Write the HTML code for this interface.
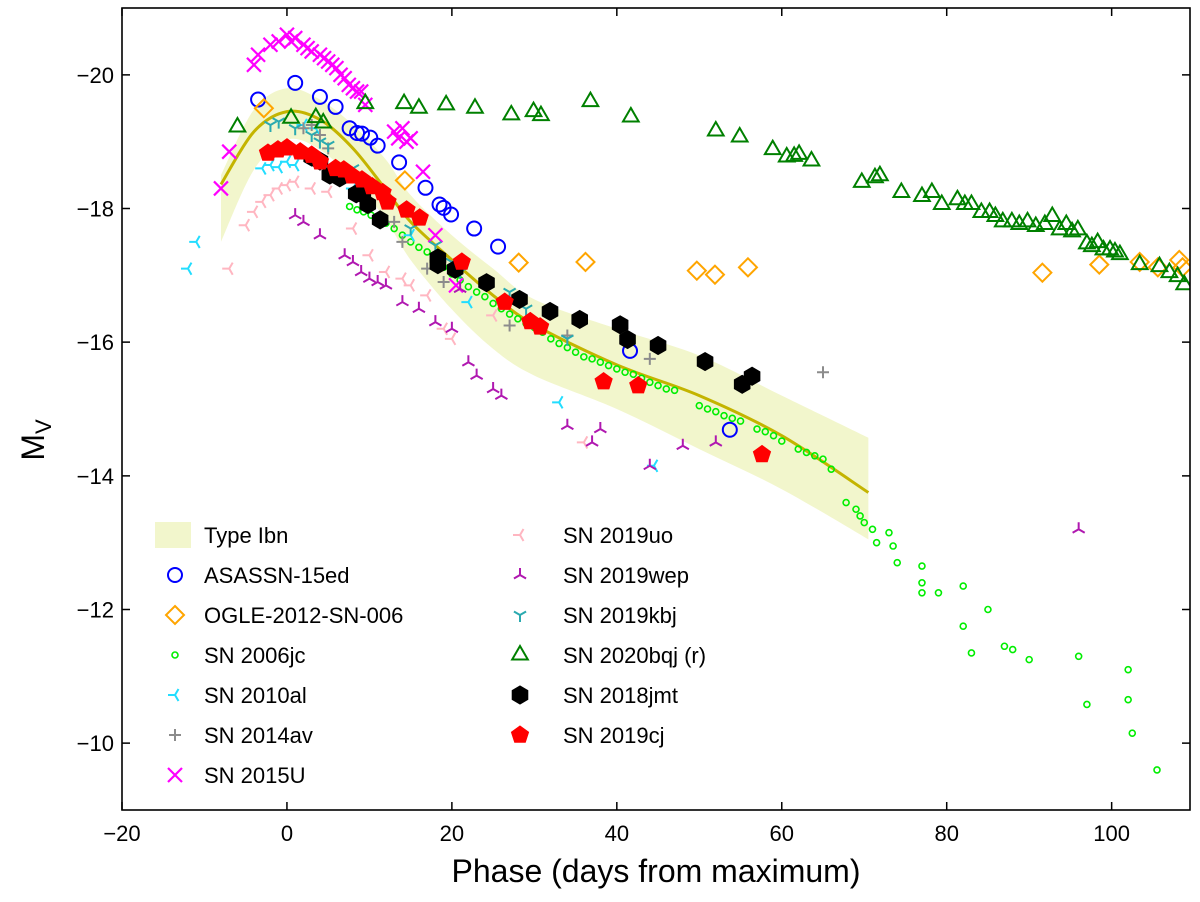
<!DOCTYPE html>
<html><head><meta charset="utf-8"><style>
html,body{margin:0;padding:0;background:#fff;}
svg{display:block;font-family:"Liberation Sans",sans-serif;}
</style></head><body>
<svg id="chart" width="1200" height="902" viewBox="0 0 1200 902" xmlns="http://www.w3.org/2000/svg"></svg>
<script>
// ---- data ----
const bandPhase=[-8,-4,0,4,8,12,15,20,25,30,40,50,60,70.5];
const bandMean=[-18.36,-19.15,-19.45,-19.33,-18.9,-18.28,-17.8,-17.23,-16.7,-16.26,-15.66,-15.2,-14.6,-13.75];
const bandUpper=[-18.5,-19.48,-19.8,-19.63,-19.25,-18.73,-18.2,-17.6,-17.1,-16.64,-16.2,-15.8,-15.2,-14.57];
const bandLower=[-17.5,-18.58,-19.03,-18.88,-18.43,-17.83,-17.23,-16.49,-15.9,-15.5,-15.0,-14.4,-13.8,-13.05];

const asassnX=[-3.5,1.0,4.0,5.9,7.6,8.5,9.1,10.1,11.0,13.6,16.8,18.5,19.0,19.9,22.7,25.6,41.6,53.7];
const asassnY=[-19.63,-19.88,-19.67,-19.52,-19.2,-19.13,-19.12,-19.06,-18.94,-18.69,-18.31,-18.06,-18.01,-17.91,-17.7,-17.43,-15.87,-14.69];

const ogleX=[-2.8,14.3,28.1,36.2,49.7,51.9,55.9,91.6,98.5,103.4,105.6,108.2,108.6];
const ogleY=[-19.5,-18.42,-17.19,-17.2,-17.07,-17.01,-17.12,-17.04,-17.16,-17.2,-17.12,-17.23,-17.12];

const jcX=[7.6,8.5,9.3,10.2,11,12,13,14,15,16,17,18,19,20,21,22,23,24,25,26,27,28,29,30,31,32,33,34,35,36,37,38,39,40,41,42,43,44,45,46,47,50,51,52,53,54,55,57,58,59,60,62,63,64,65,66,67.8,69,69.5,70,71,71.5,73,73.5,74,77,77,77,79,82,82,83,85,87,88,90,96,97,102,102,102.5,105.5];
const jcY=[-18.03,-17.98,-17.95,-17.9,-17.85,-17.78,-17.7,-17.6,-17.5,-17.42,-17.35,-17.22,-17.12,-17.02,-16.93,-16.83,-16.75,-16.68,-16.58,-16.5,-16.42,-16.35,-16.28,-16.22,-16.15,-16.05,-15.98,-15.92,-15.85,-15.78,-15.75,-15.7,-15.65,-15.6,-15.55,-15.52,-15.46,-15.4,-15.35,-15.3,-15.28,-15.05,-15.0,-14.96,-14.9,-14.86,-14.82,-14.7,-14.66,-14.6,-14.52,-14.4,-14.35,-14.3,-14.25,-14.1,-13.6,-13.5,-13.4,-13.3,-13.2,-13.0,-13.15,-12.95,-12.7,-12.65,-12.4,-12.25,-12.25,-12.35,-11.75,-11.35,-12.0,-11.45,-11.4,-11.25,-11.3,-10.58,-11.1,-10.65,-10.15,-9.6];

const al10X=[-12,-11,-3,-2,-1,0,1,2,3.5,8,15,22,33,44.5];
const al10Y=[-17.1,-17.5,-18.6,-18.65,-18.62,-18.7,-18.65,-19.25,-19.2,-18.3,-17.6,-16.6,-15.1,-14.15];

const av14X=[2,3,4,5,13,14,17,19,27,34,44,65];
const av14Y=[-19.2,-19.25,-19.1,-18.9,-17.8,-17.5,-17.1,-16.9,-16.25,-16.1,-15.75,-15.55];

const u15X=[-8,-7,-4,-3.5,-2,-1,0,0.5,1,2,2.5,3,4,4.5,5,5.5,6,6.5,7,7.5,8,8.5,9,9.5,13,13.5,14,14.5,15,16.5,18,20.5];
const u15Y=[-18.3,-18.85,-20.15,-20.3,-20.45,-20.5,-20.6,-20.5,-20.55,-20.45,-20.4,-20.35,-20.3,-20.25,-20.2,-20.15,-20.1,-20.0,-19.95,-19.85,-19.8,-19.75,-19.75,-19.55,-19.15,-19.05,-19.2,-19.0,-19.05,-18.55,-17.6,-16.85];

const uo19X=[-7,-5,-4,-3,-2,-1,0,1,3,5,8,10,12,14,15,17,19,20,25,36];
const uo19Y=[-17.1,-17.75,-17.95,-18.1,-18.2,-18.3,-18.35,-18.4,-18.3,-18.25,-17.7,-17.3,-17.05,-16.95,-16.85,-16.7,-16.2,-16.05,-16.4,-14.5];

const wep19X=[1,2,4,7,8,9,10,11,12,14,16,18,20,21,22,23,25,26,34,37,38,44,48,52,96];
const wep19Y=[-17.9,-17.8,-17.6,-17.3,-17.2,-17.05,-16.95,-16.9,-16.85,-16.6,-16.5,-16.3,-16.2,-16.8,-15.7,-15.5,-15.3,-15.2,-14.75,-14.5,-14.7,-14.15,-14.45,-14.5,-13.2];

const kbj19X=[-2,-1,1,3,4,5,8,15,18,20,21,27,29,34];
const kbj19Y=[-19.25,-19.3,-19.2,-19.1,-19.0,-18.95,-18.6,-17.7,-17.45,-17.2,-17.05,-16.75,-16.5,-16.05];

const bqjX=[-6,0.5,3.5,4.4,9.5,14.2,16,19.3,22.8,27.2,29.9,30.8,36.8,41.7,52,54.9,58.9,60.6,61.5,62.1,63.6,69.7,71.3,71.9,74.5,77,78.2,79.4,81.3,82.2,83,84.2,85.2,85.9,86.8,87.9,88.8,89.8,90.8,91.9,92.8,93.7,94.5,95.2,95.9,97,97.6,98.3,99,99.8,100.4,101,103.4,105.8,107,108,108.8];
const bqjY=[-19.22,-19.35,-19.36,-19.28,-19.57,-19.57,-19.5,-19.55,-19.5,-19.4,-19.45,-19.39,-19.6,-19.37,-19.16,-19.07,-18.88,-18.77,-18.78,-18.81,-18.71,-18.39,-18.46,-18.49,-18.24,-18.18,-18.24,-18.06,-18.13,-18.06,-18.06,-17.94,-17.94,-17.88,-17.8,-17.8,-17.76,-17.8,-17.73,-17.76,-17.88,-17.68,-17.76,-17.65,-17.68,-17.47,-17.43,-17.49,-17.38,-17.38,-17.35,-17.31,-17.16,-17.13,-17.04,-16.98,-16.86];

const jmtX=[3,4,5.2,6.4,8.4,9.2,9.8,11.3,18.3,18.3,20.4,24.2,28.2,31.9,35.5,40.4,41.3,45,50.7,55.2,56.4];
const jmtY=[-18.77,-18.71,-18.5,-18.46,-18.22,-18.21,-18.06,-17.83,-17.26,-17.16,-17.09,-16.89,-16.64,-16.46,-16.34,-16.26,-16.04,-15.95,-15.71,-15.37,-15.49];

const cjX=[-2.3,-1.1,0,1.6,3,4,5.9,6.9,7.9,9.1,10.3,11.6,12.2,14.5,16.1,21.2,26.4,29.5,30.7,38.4,42.6,57.6];
const cjY=[-18.83,-18.88,-18.91,-18.85,-18.8,-18.7,-18.6,-18.58,-18.49,-18.43,-18.33,-18.24,-18.1,-17.98,-17.86,-17.2,-16.6,-16.31,-16.23,-15.41,-15.35,-14.32];

const xTicks=[-20,0,20,40,60,80,100];
const yTicks=[-20,-18,-16,-14,-12,-10];

// ---- layout ----
const L=122,R=1190,T=8,B=810;
const X0=-20,X1=109.5,Y0=-21,Y1=-9;
const sx=v=>L+(v-X0)/(X1-X0)*(R-L);
const sy=v=>T+(v-Y0)/(Y1-Y0)*(B-T);
const NS="http://www.w3.org/2000/svg";
const svg=document.getElementById('chart');
function mk(tag,attrs,parent){const e=document.createElementNS(NS,tag);for(const k in attrs)e.setAttribute(k,attrs[k]);(parent||svg).appendChild(e);return e;}

// Catmull-Rom smooth path segments
function smooth(pts,start){
  let d=start?('M'+pts[0][0]+','+pts[0][1]):('L'+pts[0][0]+','+pts[0][1]);
  for(let i=0;i<pts.length-1;i++){
    const p0=pts[Math.max(i-1,0)],p1=pts[i],p2=pts[i+1],p3=pts[Math.min(i+2,pts.length-1)];
    const c1=[p1[0]+(p2[0]-p0[0])/6,p1[1]+(p2[1]-p0[1])/6];
    const c2=[p2[0]-(p3[0]-p1[0])/6,p2[1]-(p3[1]-p1[1])/6];
    d+=`C${c1[0]},${c1[1]} ${c2[0]},${c2[1]} ${p2[0]},${p2[1]}`;
  }
  return d;
}

const defs=mk('defs',{});
const cp=mk('clipPath',{id:'clip'},defs);mk('rect',{x:L,y:T,width:R-L,height:B-T},cp);
const plot=mk('g',{'clip-path':'url(#clip)'});



// band
const up=bandPhase.map((p,i)=>[sx(p),sy(bandUpper[i])]);
const lo=bandPhase.map((p,i)=>[sx(p),sy(bandLower[i])]).reverse();
const band=mk('path',{d:smooth(up,true)+smooth(lo,false)+'Z',fill:'#f2f6cc',stroke:'none'},plot);


const meanLine=mk('path',{d:smooth(bandPhase.map((p,i)=>[sx(p),sy(bandMean[i])]),true),fill:'none',stroke:'#c4b400','stroke-width':3,'stroke-linejoin':'round'},plot);



function marker(g,type,x,y,col,s){
  s=s||1;
  if(type==='circle')return mk('circle',{cx:x,cy:y,r:7*s,fill:'none',stroke:col,'stroke-width':2},g);
  if(type==='small')return mk('circle',{cx:x,cy:y,r:3,fill:'none',stroke:col,'stroke-width':1.6},g);
  if(type==='diamond'){const r=9*s;return mk('path',{d:`M${x},${y-r}L${x+r},${y}L${x},${y+r}L${x-r},${y}Z`,fill:'none',stroke:col,'stroke-width':2},g);}
  if(type==='plus'){const r=6;return mk('path',{d:`M${x-r},${y}H${x+r}M${x},${y-r}V${y+r}`,stroke:col,'stroke-width':2},g);}
  if(type==='x'){const r=7;return mk('path',{d:`M${x-r},${y-r}L${x+r},${y+r}M${x-r},${y+r}L${x+r},${y-r}`,stroke:col,'stroke-width':2.2},g);}
  if(type==='triangle'){const r=9*s;return mk('path',{d:`M${x},${y-r}L${x+r*0.87},${y+r*0.5}L${x-r*0.87},${y+r*0.5}Z`,fill:'none',stroke:col,'stroke-width':2},g);}
  if(type==='hex'){let p='';for(let k=0;k<6;k++){const a=Math.PI/6+k*Math.PI/3;p+=(k?'L':'M')+(x+9*s*Math.cos(a))+','+(y+9*s*Math.sin(a));}return mk('path',{d:p+'Z',fill:'#000',stroke:'#000','stroke-width':1},g);}
  if(type==='pent'){let p='';for(let k=0;k<5;k++){const a=-Math.PI/2+k*2*Math.PI/5;p+=(k?'L':'M')+(x+9*s*Math.cos(a))+','+(y+9*s*Math.sin(a));}return mk('path',{d:p+'Z',fill:'#f00',stroke:'#f00','stroke-width':1},g);}
  const r=7;let angs;
  if(type==='tri_left')angs=[180,60,-60];
  if(type==='tri_up')angs=[-90,30,150];
  if(type==='tri_down')angs=[90,-30,-150];
  let p='';angs.forEach(a=>{const t=a*Math.PI/180;p+=`M${x},${y}L${x+r*Math.cos(t)},${y+r*Math.sin(t)}`;});
  return mk('path',{d:p,stroke:col,'stroke-width':2,fill:'none'},g);
}
const series=[
 {name:'ASASSN-15ed',key:'asassn-15ed',xs:asassnX,ys:asassnY,type:'circle',col:'#0000ff'},
 {name:'OGLE-2012-SN-006',key:'ogle-2012-sn-006',xs:ogleX,ys:ogleY,type:'diamond',col:'#ffa500'},
 {name:'SN 2006jc',key:'sn-2006jc',xs:jcX,ys:jcY,type:'small',col:'#00ee00'},
 {name:'SN 2010al',key:'sn-2010al',xs:al10X,ys:al10Y,type:'tri_left',col:'#22ddff'},
 {name:'SN 2014av',key:'sn-2014av',xs:av14X,ys:av14Y,type:'plus',col:'#8c8c8c'},
 {name:'SN 2015U',key:'sn-2015u',xs:u15X,ys:u15Y,type:'x',col:'#ff00ff'},
 {name:'SN 2019uo',key:'sn-2019uo',xs:uo19X,ys:uo19Y,type:'tri_left',col:'#ffb6c1'},
 {name:'SN 2019wep',key:'sn-2019wep',xs:wep19X,ys:wep19Y,type:'tri_up',col:'#b018b0'},
 {name:'SN 2019kbj',key:'sn-2019kbj',xs:kbj19X,ys:kbj19Y,type:'tri_down',col:'#2aaab0'},
 {name:'SN 2020bqj (r)',key:'sn-2020bqj',xs:bqjX,ys:bqjY,type:'triangle',col:'#008000'},
 {name:'SN 2018jmt',key:'sn-2018jmt',xs:jmtX,ys:jmtY,type:'hex',col:'#000'},
 {name:'SN 2019cj',key:'sn-2019cj',xs:cjX,ys:cjY,type:'pent',col:'#f00'}
];
series.forEach(s=>{
  const g=mk('g',{},plot);
  
  
  s.xs.forEach((v,i)=>{
    const m=marker(g,s.type,sx(v),sy(s.ys[i]),s.col);
    
    
  });
});

const frame=mk('rect',{x:L,y:T,width:R-L,height:B-T,fill:'none',stroke:'#000','stroke-width':1.6});



xTicks.forEach(v=>{
  const x=sx(v);
  mk('path',{d:`M${x},${B}V${B-8}M${x},${T}V${T+8}`,stroke:'#000','stroke-width':1.5});
  const t=mk('text',{x:x,y:B+31,'font-size':22,'text-anchor':'middle',fill:'#000'});
  t.textContent=v<0?'\u2212'+(-v):v;
  
  
});
yTicks.forEach(v=>{
  const y=sy(v);
  mk('path',{d:`M${L},${y}H${L+8}M${R},${y}H${R-8}`,stroke:'#000','stroke-width':1.5});
  const t=mk('text',{x:L-8,y:y+8,'font-size':22,'text-anchor':'end',fill:'#000'});
  t.textContent='\u2212'+(-v);
  
  
});
const xl=mk('text',{x:(L+R)/2,y:882,'font-size':32,'text-anchor':'middle',fill:'#000'});
xl.textContent='Phase (days from maximum)';


const yl=mk('text',{x:0,y:0,'font-size':32,'text-anchor':'middle',fill:'#000',transform:'translate(44,440) rotate(-90)'});
yl.innerHTML='M<tspan font-size="22" dy="7">V</tspan>';



const leg=mk('g',{});


const items=[{name:'Type Ibn',key:'type-ibn'}].concat(series);
items.forEach((s,i)=>{
  const col=i<7?0:1, row=i<7?i:i-7;
  const mx=col?520:172, ty=535+row*40;
  const g=mk('g',{},leg);
  
  
  if(i===0)mk('rect',{x:155,y:ty-13,width:36,height:26,fill:'#f2f6cc'},g);
  else marker(g,s.type,mx+(col?0:3),ty,s.col);
  const t=mk('text',{x:col?563:204,y:ty+8,'font-size':22,fill:'#000'},g);
  t.textContent=s.name;
});
</script>
</body></html>
